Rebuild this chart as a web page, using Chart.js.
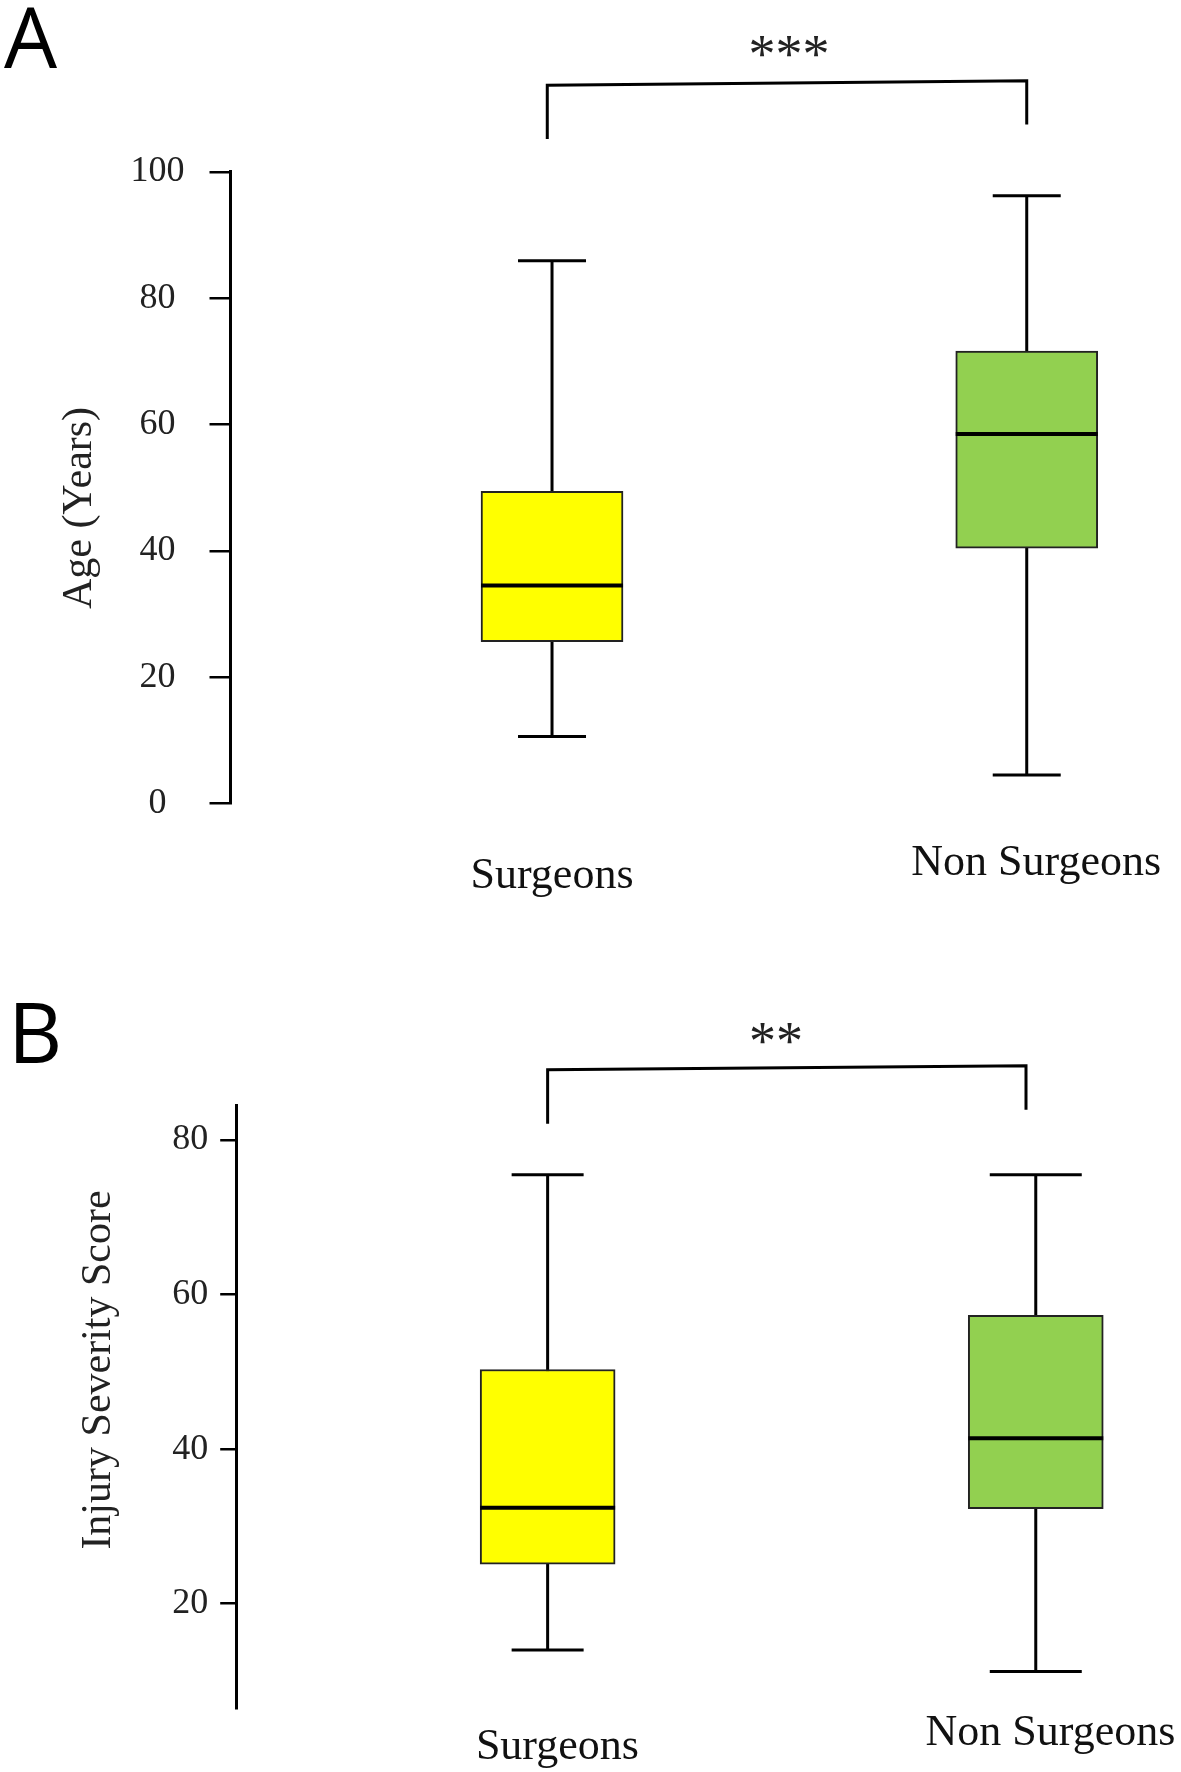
<!DOCTYPE html>
<html>
<head>
<meta charset="utf-8">
<script src="https://cdn.jsdelivr.net/npm/chart.js@4.4.1/dist/chart.umd.min.js"></script>
<style>
  html, body { margin: 0; padding: 0; background: #fff; }
  canvas { display: block; }
</style>
</head>
<body>
<canvas id="chartA" width="1181" height="900"></canvas>
<canvas id="chartB" width="1181" height="872"></canvas>
<script>
/* values */
const categories = ['Surgeons', 'Non Surgeons'];

const ageMin    = [10.6, 4.5];
const ageQ1     = [25.6, 40.4];
const ageMedian = [34.5, 58.5];
const ageQ3     = [49.4, 71.6];
const ageMax    = [85.9, 96.2];
const ageTicks  = [0, 20, 40, 60, 80, 100];

const issMin    = [14.0, 11.2];
const issQ1     = [25.1, 32.3];
const issMedian = [32.4, 41.4];
const issQ3     = [50.3, 57.3];
const issMax    = [75.5, 75.5];
const issTicks  = [20, 40, 60, 80];

const boxColors = ['#ffff00', '#92d050'];
const SERIF = "'Liberation Serif', 'Times New Roman', serif";
const SANS = "'Open Sans', 'Noto Sans', sans-serif";

/* whiskers + caps behind the boxes, medians / bracket / labels on top */
function makeExtras(cfg) {
  return {
    id: 'boxExtras',
    beforeDatasetsDraw(chart) {
      const {ctx, scales: {x, y}} = chart;
      ctx.save();
      ctx.strokeStyle = '#000';
      ctx.lineWidth = 3;
      cfg.stats.min.forEach((mn, i) => {
        const px = x.getPixelForValue(i + 1);
        const top = y.getPixelForValue(cfg.stats.max[i]);
        const bot = y.getPixelForValue(mn);
        const cw = cfg.capWidth[i] / 2;
        ctx.beginPath();
        ctx.moveTo(px, top); ctx.lineTo(px, bot);
        ctx.moveTo(px - cw, top); ctx.lineTo(px + cw, top);
        ctx.moveTo(px - cw, bot); ctx.lineTo(px + cw, bot);
        ctx.stroke();
      });
      ctx.restore();
    },
    afterDatasetsDraw(chart) {
      const {ctx, scales: {x, y}} = chart;
      const meta = chart.getDatasetMeta(0);
      ctx.save();
      ctx.strokeStyle = '#000';
      ctx.lineWidth = 4;
      cfg.stats.median.forEach((m, i) => {
        const bar = meta.data[i];
        const py = y.getPixelForValue(m);
        ctx.beginPath();
        ctx.moveTo(bar.x - bar.width / 2, py);
        ctx.lineTo(bar.x + bar.width / 2, py);
        ctx.stroke();
      });

      // significance bracket
      const b = cfg.bracket;
      ctx.lineWidth = 3;
      ctx.beginPath();
      ctx.moveTo(x.getPixelForValue(b.x[0]), y.getPixelForValue(b.y[0]));
      ctx.lineTo(x.getPixelForValue(b.x[0]), y.getPixelForValue(b.y[1]));
      ctx.lineTo(x.getPixelForValue(b.x[1]), y.getPixelForValue(b.y[2]));
      ctx.lineTo(x.getPixelForValue(b.x[1]), y.getPixelForValue(b.y[3]));
      ctx.stroke();

      ctx.fillStyle = '#222';
      ctx.textAlign = 'center';
      ctx.textBaseline = 'alphabetic';
      ctx.font = '54px ' + SERIF;
      ctx.fillText(cfg.stars.text, cfg.stars.x, cfg.stars.y);

      // panel letter
      ctx.fillStyle = '#000';
      ctx.textAlign = 'left';
      ctx.font = '84px ' + SANS;
      ctx.fillText(cfg.letter.text, cfg.letter.x, cfg.letter.y);

      // y axis title
      ctx.fillStyle = '#222';
      ctx.translate(cfg.yTitle.x, cfg.yTitle.y);
      ctx.rotate(-Math.PI / 2);
      ctx.textAlign = 'center';
      ctx.textBaseline = 'middle';
      ctx.font = '42px ' + SERIF;
      ctx.fillText(cfg.yTitle.text, 0, 0);
      ctx.restore();
    }
  };
}

function boxChart(id, stats, ticks, cfg) {
  cfg.stats = stats;
  return new Chart(document.getElementById(id), {
    type: 'bar',
    data: {
      datasets: [{
        data: categories.map((c, i) => ({x: i + 1, y: [stats.q1[i], stats.q3[i]]})),
        backgroundColor: boxColors,
        borderColor: '#222',
        borderWidth: 2,
        borderSkipped: false,
        barThickness: cfg.barThickness
      }]
    },
    options: {
      responsive: false,
      animation: false,
      layout: {padding: cfg.padding},
      plugins: {legend: {display: false}, tooltip: {enabled: false}},
      scales: {
        x: {
          type: 'linear', offset: false, min: cfg.xMin, max: cfg.xMax,
          grid: {display: false}, border: {display: false},
          // category labels sit a little off the box centres, as in the figure
          afterBuildTicks: sc => { sc.ticks = cfg.labelAt.map(v => ({value: v})); },
          afterFit: sc => { sc.height = cfg.xHeight; },
          ticks: {
            autoSkip: false, maxRotation: 0, padding: cfg.xPad, color: '#111',
            font: c => ({family: SERIF, size: 44, lineHeight: cfg.labelLine[c.index] + 'px'}),
            callback: (v, i) => categories[i]
          }
        },
        y: {
          min: cfg.yMin, max: cfg.yMax,
          afterBuildTicks: sc => { sc.ticks = ticks.map(v => ({value: v})); },
          afterFit: sc => { sc.width = cfg.yWidth; },
          grid: {drawOnChartArea: false, drawTicks: true, tickLength: cfg.tickLen, color: '#000', lineWidth: 2.5},
          border: {display: true, color: '#000', width: 3},
          ticks: {crossAlign: 'center', padding: cfg.yPad, color: '#222', font: {family: SERIF, size: 36}}
        }
      }
    },
    plugins: [makeExtras(cfg)]
  });
}

boxChart('chartA',
  {min: ageMin, q1: ageQ1, median: ageMedian, q3: ageQ3, max: ageMax},
  ageTicks,
  {
    yMin: 0, yMax: 100, xMin: 0.3227, xMax: 2.3018,
    padding: {top: 171.8, left: 0, right: 11, bottom: 0},
    yWidth: 230.5, xHeight: 96.5, xPad: 10, yPad: 25, tickLen: 21,
    labelAt: [1.0, 2.02], labelLine: [109, 83],
    barThickness: 142, capWidth: [68, 68],
    bracket: {x: [0.99, 2], y: [105.2, 113.7, 114.4, 107.5]},
    stars: {text: '***', x: 789, y: 72},
    letter: {text: 'A', x: 4, y: 68},
    yTitle: {text: 'Age (Years)', x: 80, y: 508}
  });

boxChart('chartB',
  {min: issMin, q1: issQ1, median: issMedian, q3: issQ3, max: issMax},
  issTicks,
  {
    yMin: 6.4, yMax: 84.5, xMin: 0.362, xMax: 2.275,
    padding: {top: 205.2, left: 0, right: 11, bottom: 0},
    yWidth: 236.2, xHeight: 63.3, xPad: 2, yPad: 12, tickLen: 16,
    labelAt: [1.02, 2.03], labelLine: [57, 29],
    barThickness: 135, capWidth: [72, 92],
    bracket: {x: [1, 1.98], y: [82.1, 89.1, 89.6, 83.9]},
    stars: {text: '**', x: 776, y: 159},
    letter: {text: 'B', x: 8, y: 163},
    yTitle: {text: 'Injury Severity Score', x: 99, y: 470}
  });
</script>
</body>
</html>
